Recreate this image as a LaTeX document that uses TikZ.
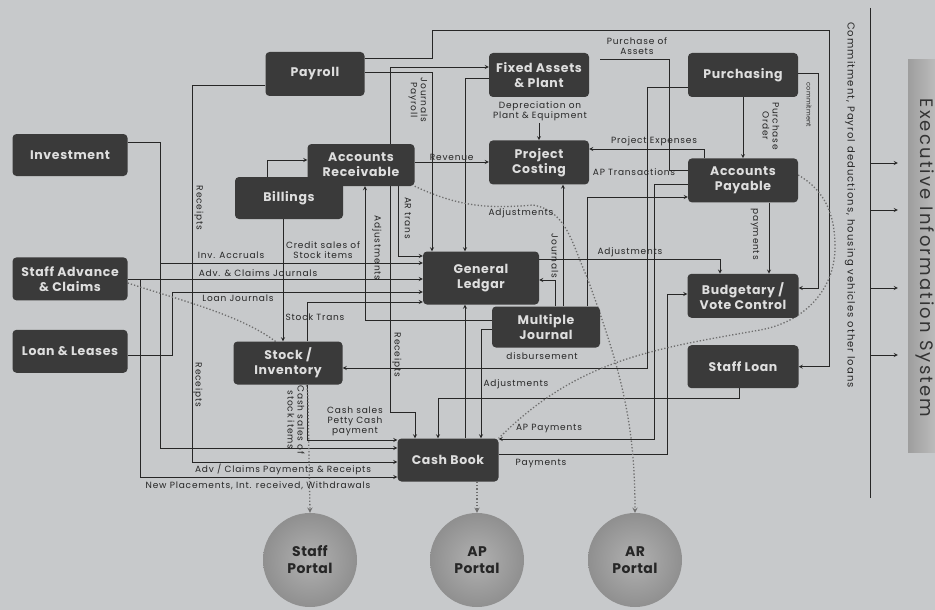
\documentclass[tikz,border=0pt]{standalone}
\usepackage{fontspec}
\setmainfont{Poppins}[LetterSpace=3]
\usepackage{tikz}
\usetikzlibrary{arrows,positioning,backgrounds}

\definecolor{bgcol}{RGB}{199,201,203}
\definecolor{boxcol}{RGB}{58,58,58}
\definecolor{boxtext}{RGB}{222,222,222}
\definecolor{linecol}{RGB}{38,38,38}
\definecolor{dotcol}{RGB}{110,110,110}
\definecolor{portalcol}{RGB}{163,163,163}

\begin{document}
\begin{tikzpicture}[
    x=1pt, y=-1pt,
    module/.style={rectangle, fill=boxcol, text=boxtext, rounded corners=4pt, align=center, font=\bfseries\fontsize{12.5}{15}\selectfont\addfontfeatures{LetterSpace=5}, minimum width=108pt, minimum height=43pt, inner sep=2pt},
    portal/.style={circle, inner color=portalcol!85!white, outer color=portalcol!88!black, minimum size=94pt, align=center, text=black!85, font=\bfseries\fontsize{14}{17}\selectfont},
    eis_bar/.style={rectangle, left color=black!38, right color=black!22, minimum width=38pt, minimum height=392pt},
    lbl/.style={font=\fontsize{9}{10}\selectfont\addfontfeatures{LetterSpace=9}, text=linecol, align=center, inner sep=1pt},
    vlbl/.style={lbl, rotate=-90},
    line/.style={draw=linecol, line width=0.8pt},
    arrow/.style={->, >=stealth, draw=linecol, line width=0.8pt},
    dotted_arrow/.style={->, >=stealth, draw=dotcol, line width=1.3pt, dotted}
]

\useasboundingbox (0,0) rectangle (935,610);

% Left column
\node[module, minimum width=115pt, minimum height=42pt] (investment) at (70,155) {Investment};
\node[module, minimum width=115pt, below=81pt of investment] (staff_advance) {Staff Advance\\\& Claims};
\node[module, minimum width=115pt, below=29pt of staff_advance] (loan_leases) {Loan \& Leases};

% Middle modules
\node[module, minimum width=99pt, minimum height=44pt] (payroll) at (315,74) {Payroll};
\node[module, minimum width=108pt, minimum height=42pt] (billings) at (289,198) {Billings};
\node[module, minimum width=107pt, minimum height=42pt] (accounts_receivable) at (361,165) {Accounts\\Receivable};
\node[module, minimum width=109pt] (stock_inventory) at (288,363) {Stock /\\Inventory};
\node[module, minimum width=116pt, minimum height=53pt] (general_ledger) at (481,278) {General\\Ledgar};
\node[module, minimum width=108pt, minimum height=41pt] (multiple_journal) at (546,327) {Multiple\\Journal};
\node[module, minimum width=101pt] (cash_book) at (448,460) {Cash Book};

% Upper modules
\node[module, minimum width=100pt, minimum height=44pt] (fixed_assets) at (539,75) {Fixed Assets\\\& Plant};
\node[module, minimum width=100pt, minimum height=44pt, below=43pt of fixed_assets] (project_costing) {Project\\Costing};

% Right column
\node[module, minimum width=110pt, minimum height=44pt] (purchasing) at (743,75) {Purchasing};
\node[module, minimum width=110pt, minimum height=44pt, below=61pt of purchasing] (accounts_payable) {Accounts\\Payable};
\node[module, minimum width=111pt, minimum height=44pt, below=71pt of accounts_payable] (budgetary) {Budgetary /\\Vote Control};
\node[module, minimum width=111pt, below=27pt of budgetary] (staff_loan) {Staff Loan};

% Portals
\node[portal] (staff_portal) at (310,560) {Staff\\Portal};
\node[portal] (ap_portal) at (477,560) {AP\\Portal};
\node[portal] (ar_portal) at (635,560) {AR\\Portal};

% Executive Information System
\coordinate (eis_top) at (870,8);
\coordinate (eis_bottom) at (870,498);
\node[eis_bar] (eis) at (927,256) {};
\node[rotate=-90, font=\fontsize{18}{20}\selectfont\addfontfeatures{LetterSpace=12}, text=black!80] (eis_text) at (925,258) {Executive Information System};
\node[vlbl, font=\fontsize{10}{11}\selectfont\addfontfeatures{LetterSpace=11}] (lbl_eis_feed) at (850,205) {Commitment, Payrol deductions, housing vehicles other loans};

% Labels
\node[vlbl] (lbl_journals_payroll) at (418,100) {Journals\\Payroll};
\node[vlbl] (lbl_receipts_a) at (199,208) {Receipts};
\node[vlbl] (lbl_receipts_b) at (198,385) {Receipts};
\node[vlbl] (lbl_receipts_c) at (397,355) {Receipts};
\node[lbl] (lbl_depreciation) at (540,111) {Depreciation on\\Plant \& Equipment};
\node[lbl] (lbl_purchase_assets) at (637,46) {Purchase of\\Assets};
\node[lbl] (lbl_project_expenses) at (654,141) {Project Expenses};
\node[lbl] (lbl_ap_trans) at (634,172) {AP Transactions};
\node[vlbl] (lbl_purchase_order) at (771,126) {Purchase\\Order};
\node[vlbl, font=\fontsize{6.5}{7}\selectfont] (lbl_commitment) at (809,105) {commitment};
\node[vlbl] (lbl_payments_ap) at (755,234) {payments};
\node[vlbl] (lbl_journals_mj) at (555,256) {Journals};
\node[lbl] (lbl_adjust_gl) at (630,252) {Adjustments};
\node[vlbl] (lbl_adjust_ar) at (377,248) {Adjustments};
\node[vlbl] (lbl_ar_trans) at (408,218) {AR trans};
\node[lbl] (lbl_adjust_dot) at (521,213) {Adjustments};
\node[lbl] (lbl_credit_sales) at (323,250) {Credit sales of\\Stock items};
\node[lbl] (lbl_inv_accruals) at (231,255) {Inv. Accruals};
\node[lbl] (lbl_adv_journals) at (258,273) {Adv. \& Claims Journals};
\node[lbl] (lbl_loan_journals) at (238,298) {Loan Journals};
\node[lbl] (lbl_stock_trans) at (315,317) {Stock Trans};
\node[vlbl] (lbl_cash_sales_stock) at (296,420) {Cash sales of\\stock items};
\node[lbl] (lbl_disbursement) at (542,356) {disbursement};
\node[lbl] (lbl_adjust_sl) at (516,384) {Adjustments};
\node[lbl] (lbl_ap_payments) at (549,429) {AP Payments};
\node[lbl] (lbl_payments) at (541,464) {Payments};
\node[lbl] (lbl_cash_sales) at (355,421) {Cash sales\\Petty Cash\\payment};
\node[lbl] (lbl_adv_payments) at (283,469) {Adv / Claims Payments \& Receipts};
\node[lbl] (lbl_new_placements) at (258,486) {New Placements, Int. received, Withdrawals};

\begin{scope}[on background layer]
    \fill[bgcol] (0,0) rectangle (935,610);

    % Payroll
    \draw[arrow] (payroll.east |- 0,58) -| (432,30) -| (829,0 |- staff_loan.east) -- (staff_loan.east);
    \draw[arrow] (payroll.east |- 0,72) -| (432,0 |- general_ledger.north);
    \draw[arrow] (payroll.west |- 0,85) -| (192,462) -- (cash_book.west |- 0,462);

    % Fixed assets
    \draw[<->, >=stealth, line] (fixed_assets.west |- 0,67) -| (390,412) -| (415,0 |- cash_book.north);
    \draw[arrow] (fixed_assets.west |- 0,78) -| (465,0 |- general_ledger.north);
    \draw[arrow] ([yshift=-26pt]fixed_assets.south) -- (project_costing.north);

    % Left column
    \draw[arrow] (investment.east |- 0,142) -| (160,263) -- (general_ledger.west |- 0,263);
    \draw[arrow] (investment.east |- 0,142) -| (160,448) -- (cash_book.west |- 0,448);
    \draw[arrow] (staff_advance.east |- 0,279) -- (general_ledger.west |- 0,279);
    \draw[arrow] (staff_advance.east |- 0,279) -| (140,477) -- (cash_book.west |- 0,477);
    \draw[arrow] (loan_leases.east |- 0,355) -| (172,292) -- (general_ledger.west |- 0,292);

    % Billings and stock
    \draw[arrow] (267,0 |- billings.north) |- (accounts_receivable.west |- 0,160);
    \draw[arrow] (283,0 |- billings.south) -- (283,0 |- stock_inventory.north);
    \draw[arrow] (307,0 |- stock_inventory.north) |- (general_ledger.west |- 0,302);
    \draw[arrow] (307,0 |- stock_inventory.south) |- (cash_book.west |- 0,440);

    % Accounts receivable
    \draw[arrow] (398,0 |- accounts_receivable.south) |- (general_ledger.west |- 0,256);
    \draw[arrow] (accounts_receivable.east |- 0,162) -- (project_costing.west |- 0,162) node[lbl, midway, above] (lbl_revenue) {Revenue};

    % Multiple journal
    \draw[arrow] (multiple_journal.west |- 0,320) -| (365,0 |- accounts_receivable.south);
    \draw[arrow] (555,0 |- multiple_journal.north) |- (general_ledger.east |- 0,280);
    \draw[arrow] (563,0 |- multiple_journal.north) -- (563,0 |- project_costing.south);
    \draw[arrow] (587,0 |- multiple_journal.north) |- (accounts_payable.west |- 0,197);
    \draw[arrow] (multiple_journal.west |- 0,329) -| (481,0 |- cash_book.north);

    % Ledger and cash book
    \draw[arrow] (465,0 |- cash_book.north) -- (465,0 |- general_ledger.south);
    \draw[arrow] (general_ledger.east |- 0,259) -| (720,0 |- budgetary.north);
    \draw[arrow] (cash_book.east |- 0,454) -| (667,294) -- (budgetary.west |- 0,294);

    % Purchasing and payables
    \draw[arrow] (purchasing.south) -- (accounts_payable.north);
    \draw[arrow] (purchasing.east |- 0,73) -| (818,288) -- (budgetary.east |- 0,288);
    \draw[arrow] (purchasing.west |- 0,87) -| (647,368) -- (stock_inventory.east |- 0,368);
    \draw[arrow] (769,0 |- accounts_payable.south) -- (769,0 |- budgetary.north);
    \draw[line] (accounts_payable.west |- 0,170) -| (669,59) -- ([xshift=11pt]fixed_assets.east |- 0,59);
    \draw[arrow] (704,0 |- accounts_payable.north) |- (project_costing.east |- 0,149);
    \draw[arrow] (accounts_payable.west |- 0,184) -| (654,439) -- (cash_book.east |- 0,439);
    \draw[arrow] (739,0 |- staff_loan.south) |- (438,398) -- (438,0 |- cash_book.north);

    % Portal feeds (dotted)
    \draw[dotted_arrow] (staff_advance.east |- 0,283) .. controls (210,310) and (308,330) .. (308,400) -- (staff_portal.north);
    \draw[dotted_arrow] (accounts_receivable.south east) to[out=-25, in=185] (533,205) to[out=-10, in=115] (587,277) to[out=-70, in=90] (ar_portal.north);
    \draw[dotted, draw=dotcol, line width=1.3pt] (accounts_payable.east |- 0,175) to[out=-30, in=90] (835,247) to[out=-90, in=10] (760,330) to[out=190, in=45] (cash_book.north east);
    \draw[dotted_arrow] (477,0 |- cash_book.south) -- (ap_portal.north);

    % Executive information system
    \draw[line] (eis_top) -- (eis_bottom);
    \foreach \y in {163,210,288,355}
        \draw[arrow, shorten >=10pt] (eis_top |- 0,\y) -- (eis.west |- 0,\y);
\end{scope}

\end{tikzpicture}
\end{document}
